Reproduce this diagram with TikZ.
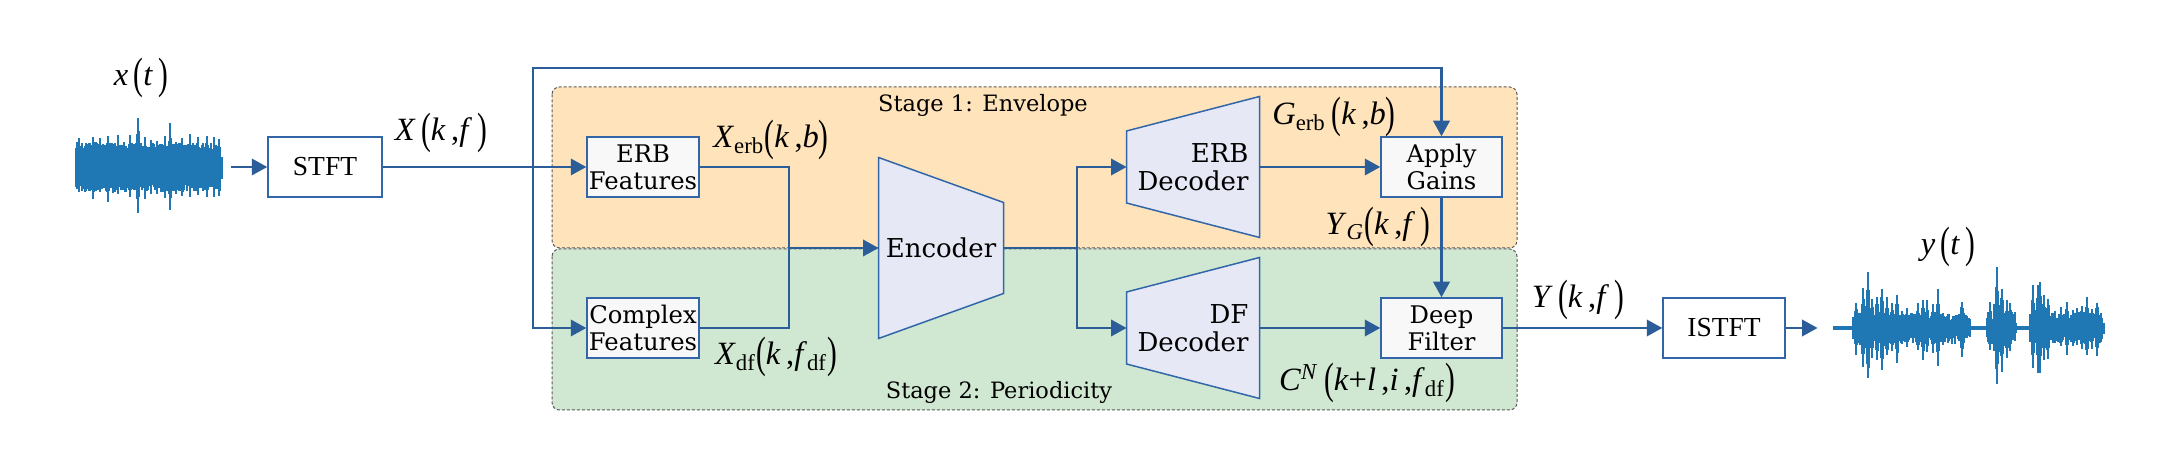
\documentclass[tikz,border=0pt]{standalone}
\usepackage{fontspec}
\setmainfont{DejaVu Serif}
\newfontfamily\tms{Liberation Serif}
\usepackage{graphicx}
\usepackage{tikz}
\usetikzlibrary{arrows.meta, positioning, calc, backgrounds}
\definecolor{wave}{RGB}{31,119,180}
\definecolor{linec}{RGB}{43,94,153}
\definecolor{boxb}{RGB}{50,102,168}
\definecolor{boxfill}{RGB}{248,248,248}
\definecolor{trapfill}{RGB}{230,233,245}
\definecolor{envfill}{RGB}{255,227,186}
\definecolor{perfill}{RGB}{208,232,209}
% one pixel of the layout
\newcommand\pu{0.4pt}
% labels: variables and tall brackets
\newcommand\mv[1]{\textit{#1}}
\newcommand\lp{\raisebox{-0.18ex}{\scalebox{0.9}[1.35]{(}}}
\newcommand\rp{\raisebox{-0.18ex}{\scalebox{0.9}[1.35]{)}}}
% trapezoid round a text node: name, left half height, right half height
\newcommand\trapdraw[3]{%
  \draw[trap] ($(#1.west)+(0,-#2)$) -- ($(#1.east)+(0,-#3)$)
    -- ($(#1.east)+(0,#3)$) -- ($(#1.west)+(0,#2)$) -- cycle;}

\begin{document}
\begin{tikzpicture}[x=0.4pt, y=-0.4pt,
    conn/.style={draw=linec, line width=0.9pt, -{Triangle[length=6.2pt,width=6.6pt]}},
    line/.style={draw=linec, line width=0.9pt},
    box/.style={draw=boxb, fill=boxfill, line width=0.6pt, inner sep=0,
      minimum width=112*\pu, minimum height=60*\pu, align=center,
      font=\fontsize{9.7}{10.8}\selectfont},
    tbox/.style={box, fill=white, font=\tms\fontsize{11}{12}\selectfont},
    dec/.style={inner sep=0, minimum height=60*\pu, align=right,
      font=\fontsize{10.4}{11}\selectfont},
    trap/.style={draw=boxb, fill=trapfill, line width=0.6pt},
    region/.style={draw=gray!70!black, line width=0.4pt, rounded corners=3pt,
      dash pattern=on 1.2pt off 0.8pt},
    lbl/.style={inner sep=0, font=\tms\fontsize{13}{13}\selectfont},
    stagelbl/.style={inner sep=0, font=\fontsize{9}{10}\selectfont},
    wline/.style={draw=wave, line width=0.9pt}]
  \useasboundingbox (0,0) rectangle (2180,470);

  % Stage regions
  \begin{scope}[on background layer]
    \draw[region, fill=envfill] (552,87) rectangle (1517,248);
    \draw[region, fill=perfill] (552,249) rectangle (1517,410);
  \end{scope}
  \node[stagelbl] (st1) at (983,105) {Stage 1: Envelope};
  \node[stagelbl] (st2) at (999,392) {Stage 2: Periodicity};

  % Blocks
  \node[inner sep=0, minimum width=163*\pu, minimum height=104*\pu] (xin) at (148.5,167) {};
  \node[tbox, minimum width=114*\pu] (stft) at (325,167) {STFT};
  \node[box] (erbf) at (643,167) {ERB\\Features};
  \node[box] (cplx) at (643,328) {Complex\\Features};
  \node[dec, minimum width=124*\pu, align=center] (enc) at (941,248) {Encoder};
  \node[dec, minimum width=132*\pu] (erbdec) at (1193,167) {ERB\\Decoder};
  \node[dec, minimum width=132*\pu] (dfdec) at (1193,328) {DF\\Decoder};
  \node[box, minimum width=121*\pu] (gains) at (1441.5,167) {Apply\\Gains};
  \node[box, minimum width=121*\pu] (deepf) at (1441.5,328) {Deep\\Filter};
  \node[tbox, minimum width=122*\pu] (istft) at (1724,328) {ISTFT};
  \node[inner sep=0, minimum width=285*\pu, minimum height=124*\pu] (yout) at (1960.5,328) {};
  \begin{scope}[on background layer]
    \trapdraw{enc}{90.5}{45.5}
    \trapdraw{erbdec}{36}{70.5}
    \trapdraw{dfdec}{36}{70.5}
  \end{scope}

  % Signal labels
  \node[lbl] (xt) at (141,78) {\mv{x}\,\lp\mv{t}\,\rp};
  \node[lbl] (yt) at (1948,247) {\mv{y}\,\lp\mv{t}\,\rp};
  \node[lbl] (lxkf) at (441,133) {\mv{X}\,\lp\mv{k}\,,\mv{f}\,\rp};
  \node[lbl] (lxerb) at (771,140) {\mv{X}\textsubscript{erb}\lp\mv{k}\,,\mv{b}\rp};
  \node[lbl] (lxdf) at (776,357) {\mv{X}\textsubscript{df}\lp\mv{k}\,,\mv{f}\textsubscript{df}\rp};
  \node[lbl] (lgerb) at (1334,117) {\mv{G}\textsubscript{erb}\,\lp\mv{k}\,,\mv{b}\rp};
  \node[lbl] (lyg) at (1378,227) {\mv{Y}\textsubscript{\mv{G}}\lp\mv{k}\,,\mv{f}\,\rp};
  \node[lbl] (lcn) at (1367,383) {\mv{C}\textsuperscript{\mv{N}}\,\lp\mv{k}+\mv{l}\,,\mv{i}\,,\mv{f}\textsubscript{df}\rp};
  \node[lbl] (lykf) at (1578,300) {\mv{Y}\,\lp\mv{k}\,,\mv{f}\,\rp};

  % Connectors
  \coordinate (split) at (533,167);
  \coordinate (skip) at (533,68);
  \coordinate (merge) at (789,248);
  \coordinate (esplit) at (1077,248);
  \draw[conn] (xin.east) -- (stft.west);
  \draw[line] (stft.east) -- (split);
  \draw[conn] (split) -- (erbf.west);
  \draw[conn] (split) |- (cplx.west);
  \draw[conn] (split) -- (skip) -| (gains.north);
  \draw[line] (erbf.east) -| (merge);
  \draw[line] (cplx.east) -| (merge);
  \draw[conn] (merge) -- (enc.west);
  \draw[line] (enc.east) -- (esplit);
  \draw[conn] (esplit) |- (erbdec.west);
  \draw[conn] (esplit) |- (dfdec.west);
  \draw[conn] (erbdec.east) -- (gains.west);
  \draw[conn] (dfdec.east) -- (deepf.west);
  \draw[conn] (gains.south) -- (deepf.north);
  \draw[conn] (deepf.east) -- (istft.west);
  \draw[conn] (istft.east) -- (yout.west);

  % Noisy input waveform
  \pgfmathsetseed{3}
  \foreach \x in {76,77.5,...,221} {
    \pgfmathsetmacro\a{18+7*rnd}
    \pgfmathsetmacro\b{18+7*rnd}
    \draw[wline] (\x,167-\a) -- (\x,167+\b);
  }
  \foreach \p/\h in {79/30, 86/27, 93/35, 100/29, 108/38, 113/28, 118/33, 124/27,
      130/36, 138/52, 145/34, 151/28, 157/30, 165/34, 170/46, 176/29, 182/31,
      190/34, 198/30, 203/27, 207/34, 214/32, 219/30} {
    \foreach \d in {-2.4,-1.2,...,2.4} {
      \pgfmathsetmacro\a{\h*(1-abs(\d)/4)*(0.8+0.2*rnd)}
      \pgfmathsetmacro\b{\h*(1-abs(\d)/4)*(0.8+0.2*rnd)}
      \draw[wline] (\p+\d,167-\a) -- (\p+\d,167+\b);
    }
  }

  % Enhanced output waveform
  \draw[draw=wave, line width=1.4pt] (1833,328) -- (2103,328);
  \foreach \s/\e in {1856/1970, 1988/2016, 2031/2102} {
    \pgfmathsetmacro\t{\s+1.5}
    \foreach \x in {\s,\t,...,\e} {
      \pgfmathsetmacro\a{8+8*rnd}
      \pgfmathsetmacro\b{8+8*rnd}
      \draw[wline] (\x,328-\a) -- (\x,328+\b);
    }
  }
  \foreach \p/\h in {1856/28, 1863/43, 1868/58, 1872/31, 1877/35, 1882/45, 1887/33,
      1892/28, 1897/36, 1902/18, 1907/21, 1918/26, 1923/33, 1927/28, 1933/25,
      1938/40, 1943/18, 1948/15, 1953/11, 1962/31, 1967/8, 1990/26, 1997/61,
      2002/45, 2007/30, 2010/26, 2013/14, 2033/43, 2038/45, 2040/48, 2044/35,
      2048/33, 2055/18, 2061/22, 2067/28, 2073/22, 2077/20, 2082/25, 2087/33,
      2092/22, 2097/31, 2101/16} {
    \foreach \d in {-2.4,-1.2,...,2.4} {
      \pgfmathsetmacro\a{\h*(1-abs(\d)/4)*(0.8+0.2*rnd)}
      \pgfmathsetmacro\b{\h*(1-abs(\d)/4)*(0.8+0.2*rnd)}
      \draw[wline] (\p+\d,328-\a) -- (\p+\d,328+\b);
    }
  }
\end{tikzpicture}
\end{document}
